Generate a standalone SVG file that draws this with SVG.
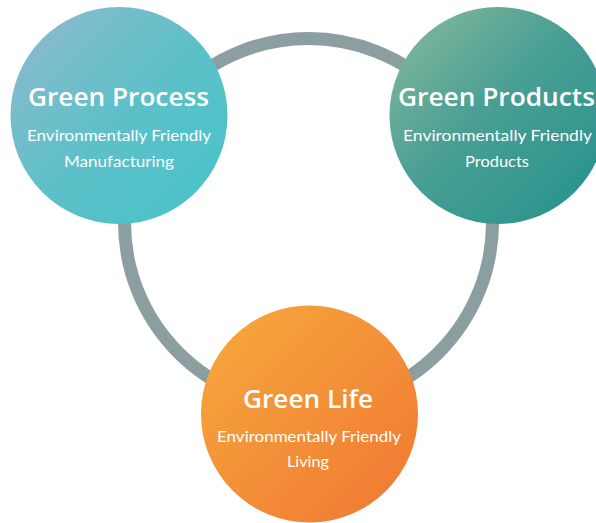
<svg xmlns="http://www.w3.org/2000/svg" width="596" height="523" viewBox="0 0 596 523">
<defs>
<linearGradient id="gProcess" x1="0" y1="0" x2="1" y2="1">
<stop offset="0" stop-color="#93b9cc"/>
<stop offset="0.5" stop-color="#5ec0c9"/>
<stop offset="1" stop-color="#45c3c8"/>
</linearGradient>
<linearGradient id="gProducts" x1="0" y1="0" x2="1" y2="1">
<stop offset="0" stop-color="#8abb9c"/>
<stop offset="0.45" stop-color="#4a9f94"/>
<stop offset="1" stop-color="#22918c"/>
</linearGradient>
<linearGradient id="gLife" x1="0" y1="0" x2="1" y2="1">
<stop offset="0" stop-color="#f6aa3e"/>
<stop offset="1" stop-color="#f07632"/>
</linearGradient>
</defs>
<style>
.title{font-family:"Open Sans","Liberation Sans",sans-serif;font-weight:600;font-size:26px;fill:#ffffff;text-anchor:middle}
.sub{font-family:Lato,"Open Sans","Liberation Sans",sans-serif;font-size:16px;fill:#ffffff;text-anchor:middle}
.ring{fill:none;stroke:#8b9fa1;stroke-width:13}
</style>
<g id="connectors">
<circle class="ring" cx="308.5" cy="222.5" r="184"/>
</g>
<g id="green-process">
<circle cx="119" cy="115.5" r="108.5" fill="url(#gProcess)"/>
<text class="title" x="118.5" y="106" textLength="181" lengthAdjust="spacingAndGlyphs">Green Process</text>
<text class="sub" x="119" y="141" textLength="184" lengthAdjust="spacingAndGlyphs">Environmentally Friendly</text>
<text class="sub" x="119" y="167" textLength="110" lengthAdjust="spacingAndGlyphs">Manufacturing</text>
</g>
<g id="green-products">
<circle cx="498" cy="115.5" r="108.5" fill="url(#gProducts)"/>
<text class="title" x="496.5" y="106" textLength="197" lengthAdjust="spacingAndGlyphs">Green Products</text>
<text class="sub" x="497.5" y="141" textLength="189" lengthAdjust="spacingAndGlyphs">Environmentally Friendly</text>
<text class="sub" x="497" y="167" textLength="64" lengthAdjust="spacingAndGlyphs">Products</text>
</g>
<g id="green-life">
<circle cx="309.5" cy="414" r="108.5" fill="url(#gLife)"/>
<text class="title" x="308" y="408" textLength="130" lengthAdjust="spacingAndGlyphs">Green Life</text>
<text class="sub" x="309" y="442" textLength="184" lengthAdjust="spacingAndGlyphs">Environmentally Friendly</text>
<text class="sub" x="308" y="467" textLength="42" lengthAdjust="spacingAndGlyphs">Living</text>
</g>
</svg>
